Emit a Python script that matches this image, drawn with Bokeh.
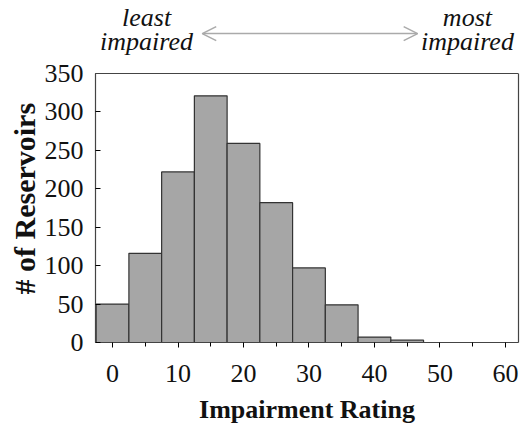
from bokeh.plotting import figure
from bokeh.models import (Range1d, FixedTicker, Label, Arrow, OpenHead,
                          LinearAxis, Span, Title)
from bokeh.embed import file_html
from bokeh.resources import INLINE

# Data
bin_centers = [0, 5, 10, 15, 20, 25, 30, 35, 40, 45, 50, 55, 60]
counts = [50, 116, 222, 321, 259, 182, 97, 49, 7, 3, 0, 0, 0]
bin_width = 5
x_ticks = [0, 10, 20, 30, 40, 50, 60]
x_minor = [5, 15, 25, 35, 45, 55]
y_ticks = [0, 50, 100, 150, 200, 250, 300, 350]
y_max = 350
scale_labels = ["least", "impaired", "most", "impaired"]

FONT = "Liberation Serif"
EDGE = "#444444"

p = figure(width=521, height=430, output_backend="svg", toolbar_location=None,
           x_range=Range1d(-2.6, 62), y_range=Range1d(0, 445),
           min_border_left=95, min_border_right=3, min_border_top=0,
           min_border_bottom=88)

p.vbar(x=bin_centers, width=bin_width, top=counts, bottom=0,
       fill_color="#a6a6a6", line_color="#333333", line_width=1.2)

p.xgrid.visible = False
p.ygrid.visible = False
p.outline_line_color = None
p.background_fill_color = "white"
p.border_fill_color = "white"

# box around the data area: left axis, right axis, top edge
p.add_layout(Span(location=y_max, dimension="width", line_color=EDGE, line_width=1.2))
ra = LinearAxis(bounds=(0, y_max), ticker=FixedTicker(ticks=[]),
                major_label_text_font_size="0px", axis_line_color=EDGE,
                axis_line_width=1.2, major_tick_in=0, major_tick_out=0,
                minor_tick_in=0, minor_tick_out=0)
p.add_layout(ra, "right")

xa = p.xaxis[0]
xa.ticker = FixedTicker(ticks=x_ticks, minor_ticks=x_minor)
xa.major_tick_in = 0
xa.major_tick_out = 5
xa.minor_tick_in = 0
xa.minor_tick_out = 4
xa.axis_line_color = EDGE
xa.axis_line_width = 1.2
xa.major_label_text_font = FONT
xa.major_label_text_font_size = "26px"
xa.major_label_text_color = "#111111"
xa.major_label_standoff = 17
xa.axis_label = "Impairment Rating"
xa.axis_label_text_font = FONT
xa.axis_label_text_font_style = "bold"
xa.axis_label_text_font_size = "26px"
xa.axis_label_text_color = "#111111"
xa.axis_label_standoff = 10

ya = p.yaxis[0]
ya.bounds = (0, y_max)
ya.ticker = FixedTicker(ticks=y_ticks)
ya.major_tick_in = 5
ya.major_tick_out = 0
ya.minor_tick_in = 0
ya.minor_tick_out = 0
ya.axis_line_color = EDGE
ya.axis_line_width = 1.2
ya.major_label_text_font = FONT
ya.major_label_text_font_size = "26px"
ya.major_label_text_color = "#111111"
ya.major_label_standoff = 12

# y axis title, centred on the boxed data area (not on the whole frame)
p.add_layout(Title(text="# of Reservoirs", align="left", offset=48,
                   vertical_align="middle", standoff=0,
                   text_font=FONT, text_font_style="bold",
                   text_font_size="30px", text_color="#111111"), "left")

# "least impaired" <-> "most impaired" scale annotation above the box
for txt, xx, yy in zip(scale_labels, [5.2, 5.2, 54.2, 54.2], [422.6, 391.4, 422.6, 391.4]):
    p.add_layout(Label(x=xx, y=yy, text=txt, text_font=FONT,
                       text_font_style="italic", text_font_size="26px",
                       text_align="center", text_baseline="middle",
                       text_color="#111111"))

p.add_layout(Arrow(x_start=13.7, y_start=402, x_end=46.6, y_end=402,
                   line_color="#aaaaaa", line_width=1.5,
                   start=OpenHead(size=14, line_color="#aaaaaa", line_width=1.5),
                   end=OpenHead(size=14, line_color="#aaaaaa", line_width=1.5)))

open("out.html", "w").write(file_html(p, INLINE))
